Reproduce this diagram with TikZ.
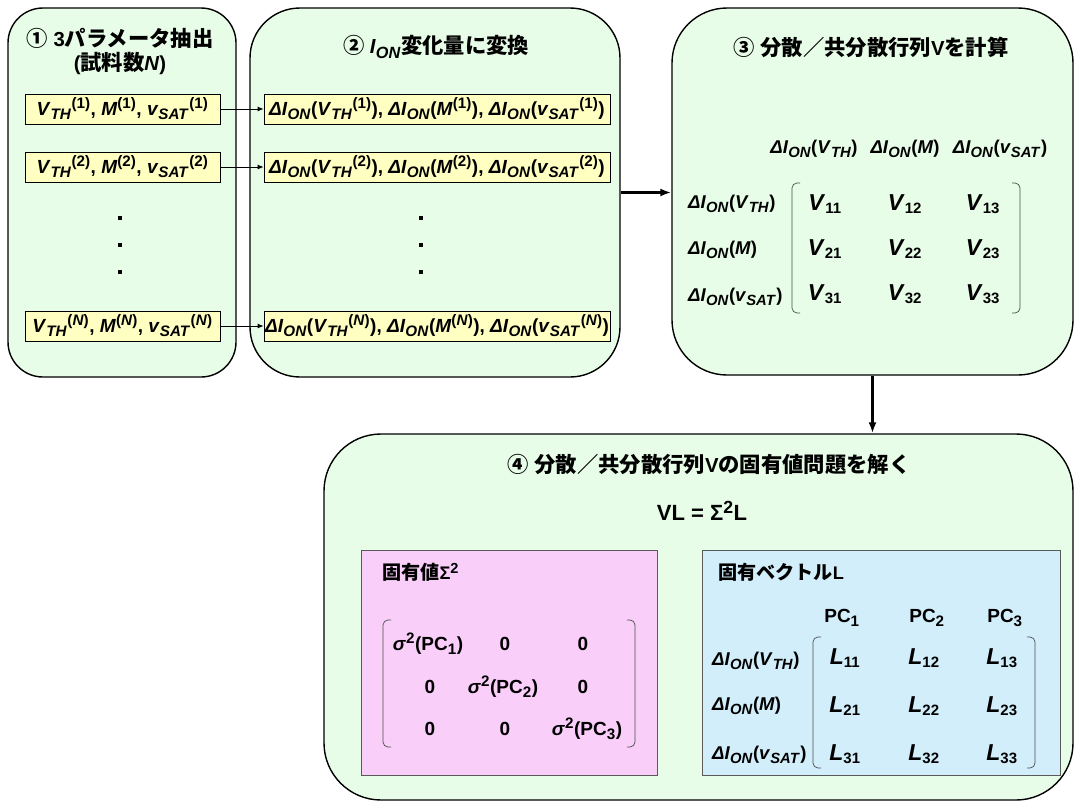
\documentclass[tikz,border=0pt]{standalone}
\usepackage{fontspec}
\setmainfont{Liberation Sans}
\newfontfamily\jp{Noto Sans CJK JP}[Scale=1.05]
\usetikzlibrary{arrows.meta}
\renewcommand\defaultscriptratio{.8}

\definecolor{boxgreen}{HTML}{E8FDE8}
\definecolor{boxyellow}{HTML}{FFFFC2}
\definecolor{boxpink}{HTML}{F9CEF9}
\definecolor{boxblue}{HTML}{D2EEFA}

\newcommand\dIon{\textit{ΔI}\textsubscript{\textit{ON}}}
\newcommand\Vth{\textit{V}\textsubscript{\textit{TH}}}
\newcommand\vsat{\textit{v}\textsubscript{\textit{SAT}}}
\newcommand\Mv{\textit{M}}
\newcommand\sps[1]{\textsuperscript{#1}}
\newcommand\sbs[1]{\textsubscript{#1}}
\newcommand\esb[1]{\textsubscript{\fontsize{15}{15}\selectfont #1}}

\tikzset{
  outerbox/.style={draw=black, line width=1.4pt, fill=boxgreen, inner sep=0pt},
  ybox/.style={draw=black, line width=0.8pt, fill=boxyellow, minimum height=30pt, inner sep=0pt, font=\bfseries\fontsize{19}{22}\selectfont},
  pinkbox/.style={draw=black!65, line width=0.8pt, fill=boxpink, inner sep=0pt},
  bluebox/.style={draw=black!65, line width=0.8pt, fill=boxblue, inner sep=0pt},
  thinarrow/.style={-{Latex[length=6pt,width=5pt]}, line width=0.8pt},
  bigarrow/.style={-{Latex[length=11pt,width=8pt]}, line width=2.2pt},
  brk/.style={draw=black!70, line width=0.7pt, rounded corners=5pt},
  dotbox/.style={fill=black, draw=none, minimum size=3.5pt, inner sep=0pt},
  ttl/.style={font=\bfseries\fontsize{20.3}{24}\selectfont, inner sep=0pt},
  sttl/.style={font=\bfseries\fontsize{18.2}{22}\selectfont, inner sep=0pt},
  lbl/.style={font=\bfseries\fontsize{18.5}{22}\selectfont, inner sep=0pt},
  ent/.style={font=\bfseries\fontsize{23}{26}\selectfont, inner sep=0pt},
  num/.style={font=\bfseries\fontsize{19}{22}\selectfont, inner sep=0pt},
}

\begin{document}
\begin{tikzpicture}[x=1pt,y=-1pt]
\useasboundingbox (0,0) rectangle (1081,809);

% outer boxes
\node[outerbox, minimum width=228pt, minimum height=369pt, rounded corners=35pt] (b1) at (122,192.5) {};
\node[outerbox, minimum width=370pt, minimum height=369pt, rounded corners=50pt] (b2) at (435,192.5) {};
\node[outerbox, minimum width=401pt, minimum height=367pt, rounded corners=55pt] (b3) at (872.5,191.5) {};
\node[outerbox, minimum width=749pt, minimum height=366pt, rounded corners=57pt] (b4) at (698.5,617) {};

% titles
\node[ttl, align=center] (t1) at (120,51) {{\jp ①}\ 3{\jp パラメータ抽出}\\({\jp 試料数}\textit{N})};
\node[ttl] (t2) at (436,47) {{\jp ②}\ \textit{I}\sbs{\textit{ON}}{\jp 変化量に変換}};
\node[ttl] (t3) at (871,47) {{\jp ③}\ {\jp 分散／共分散行列}V{\jp を計算}};
\node[ttl] (t4) at (709,464) {{\jp ④}\ {\jp 分散／共分散行列}V{\jp の固有値問題を解く}};
\node[font=\bfseries\fontsize{22}{26}\selectfont, inner sep=0pt] (eq) at (702,511) {VL = Σ\sps{2}L};

% yellow boxes, column 1
\node[ybox, minimum width=195pt] (a1) at (122.5,109) {\Vth\sps{(1)}, \Mv\sps{(1)}, \vsat\sps{(1)}};
\node[ybox, minimum width=195pt] (a2) at (122.5,167) {\Vth\sps{(2)}, \Mv\sps{(2)}, \vsat\sps{(2)}};
\node[ybox, minimum width=195pt] (a3) at (122.5,326) {\Vth\sps{(\textit{N})}, \Mv\sps{(\textit{N})}, \vsat\sps{(\textit{N})}};
% yellow boxes, column 2
\node[ybox, minimum width=346pt] (c1) at (437,109) {\dIon(\Vth\sps{(1)}), \dIon(\Mv\sps{(1)}), \dIon(\vsat\sps{(1)})};
\node[ybox, minimum width=346pt] (c2) at (437,167) {\dIon(\Vth\sps{(2)}), \dIon(\Mv\sps{(2)}), \dIon(\vsat\sps{(2)})};
\node[ybox, minimum width=346pt] (c3) at (437,326) {\dIon(\Vth\sps{(\textit{N})}), \dIon(\Mv\sps{(\textit{N})}), \dIon(\vsat\sps{(\textit{N})})};

% dots
\node[dotbox] (d1) at (120,218) {};
\node[dotbox] (d2) at (120,245) {};
\node[dotbox] (d3) at (120,272) {};
\node[dotbox] (e1) at (421,218) {};
\node[dotbox] (e2) at (421,245) {};
\node[dotbox] (e3) at (421,272) {};

% thin arrows
\draw[thinarrow] (a1.east) -- (c1.west);
\draw[thinarrow] (a2.east) -- (c2.west);
\draw[thinarrow] (a3.east) -- (c3.west);

% big arrows
\draw[bigarrow] (b2.east) -- (b2.east -| b3.west);
\draw[bigarrow] (b3.south) -- (b3.south |- b4.north);

% box 3 matrix
\node[lbl, anchor=base] (h31) at (814,153) {\dIon(\Vth)};
\node[lbl, anchor=base] (h32) at (905,153) {\dIon(\Mv)};
\node[lbl, anchor=base] (h33) at (1000,153) {\dIon(\vsat)};
\node[lbl, anchor=base west] (r31) at (688,208) {\dIon(\Vth)};
\node[lbl, anchor=base west] (r32) at (688,254) {\dIon(\Mv)};
\node[lbl, anchor=base west] (r33) at (688,301) {\dIon(\vsat)};
\draw[brk] (800,183) -- (792,183) -- (792,313) -- (800,313);
\draw[brk] (1012,183) -- (1020,183) -- (1020,313) -- (1012,313);
\foreach \r/\yy in {1/210,2/255,3/300}{
  \node[ent, anchor=base] (v\r1) at (825,\yy) {\textit{V}\esb{\r1}};
  \node[ent, anchor=base] (v\r2) at (905,\yy) {\textit{V}\esb{\r2}};
  \node[ent, anchor=base] (v\r3) at (983,\yy) {\textit{V}\esb{\r3}};
}

% pink box
\node[pinkbox, minimum width=296pt, minimum height=225pt] (pk) at (509,662.5) {};
\node[sttl, anchor=west] (pkt) at (382,572) {{\jp 固有値}Σ\sps{2}};
\draw[brk] (391,620) -- (383,620) -- (383,747) -- (391,747);
\draw[brk] (627,620) -- (635,620) -- (635,747) -- (627,747);
\node[num, anchor=base] (s11) at (428,650) {\textit{σ}\sps{2}(PC\sbs{1})};
\node[num, anchor=base] (s12) at (505,650) {0};
\node[num, anchor=base] (s13) at (583,650) {0};
\node[num, anchor=base] (s21) at (430,693) {0};
\node[num, anchor=base] (s22) at (503,693) {\textit{σ}\sps{2}(PC\sbs{2})};
\node[num, anchor=base] (s23) at (583,693) {0};
\node[num, anchor=base] (s31) at (430,735) {0};
\node[num, anchor=base] (s32) at (505,735) {0};
\node[num, anchor=base] (s33) at (587,735) {\textit{σ}\sps{2}(PC\sbs{3})};

% blue box
\node[bluebox, minimum width=358pt, minimum height=225pt] (bl) at (881,662.5) {};
\node[sttl, anchor=west] (blt) at (718,572) {{\jp 固有ベクトル}L};
\node[num, anchor=base] (p1) at (842,622) {PC\sbs{1}};
\node[num, anchor=base] (p2) at (927,622) {PC\sbs{2}};
\node[num, anchor=base] (p3) at (1005,622) {PC\sbs{3}};
\node[lbl, anchor=base west] (q1) at (712,665) {\dIon(\Vth)};
\node[lbl, anchor=base west] (q2) at (712,710) {\dIon(\Mv)};
\node[lbl, anchor=base west] (q3) at (712,759) {\dIon(\vsat)};
\draw[brk] (821,637) -- (813,637) -- (813,768) -- (821,768);
\draw[brk] (1027,637) -- (1035,637) -- (1035,768) -- (1027,768);
\foreach \r/\yy in {1/664,2/712,3/760}{
  \node[ent, anchor=base] (l\r1) at (845,\yy) {\textit{L}\esb{\r1}};
  \node[ent, anchor=base] (l\r2) at (924,\yy) {\textit{L}\esb{\r2}};
  \node[ent, anchor=base] (l\r3) at (1002,\yy) {\textit{L}\esb{\r3}};
}
\end{tikzpicture}
\end{document}
